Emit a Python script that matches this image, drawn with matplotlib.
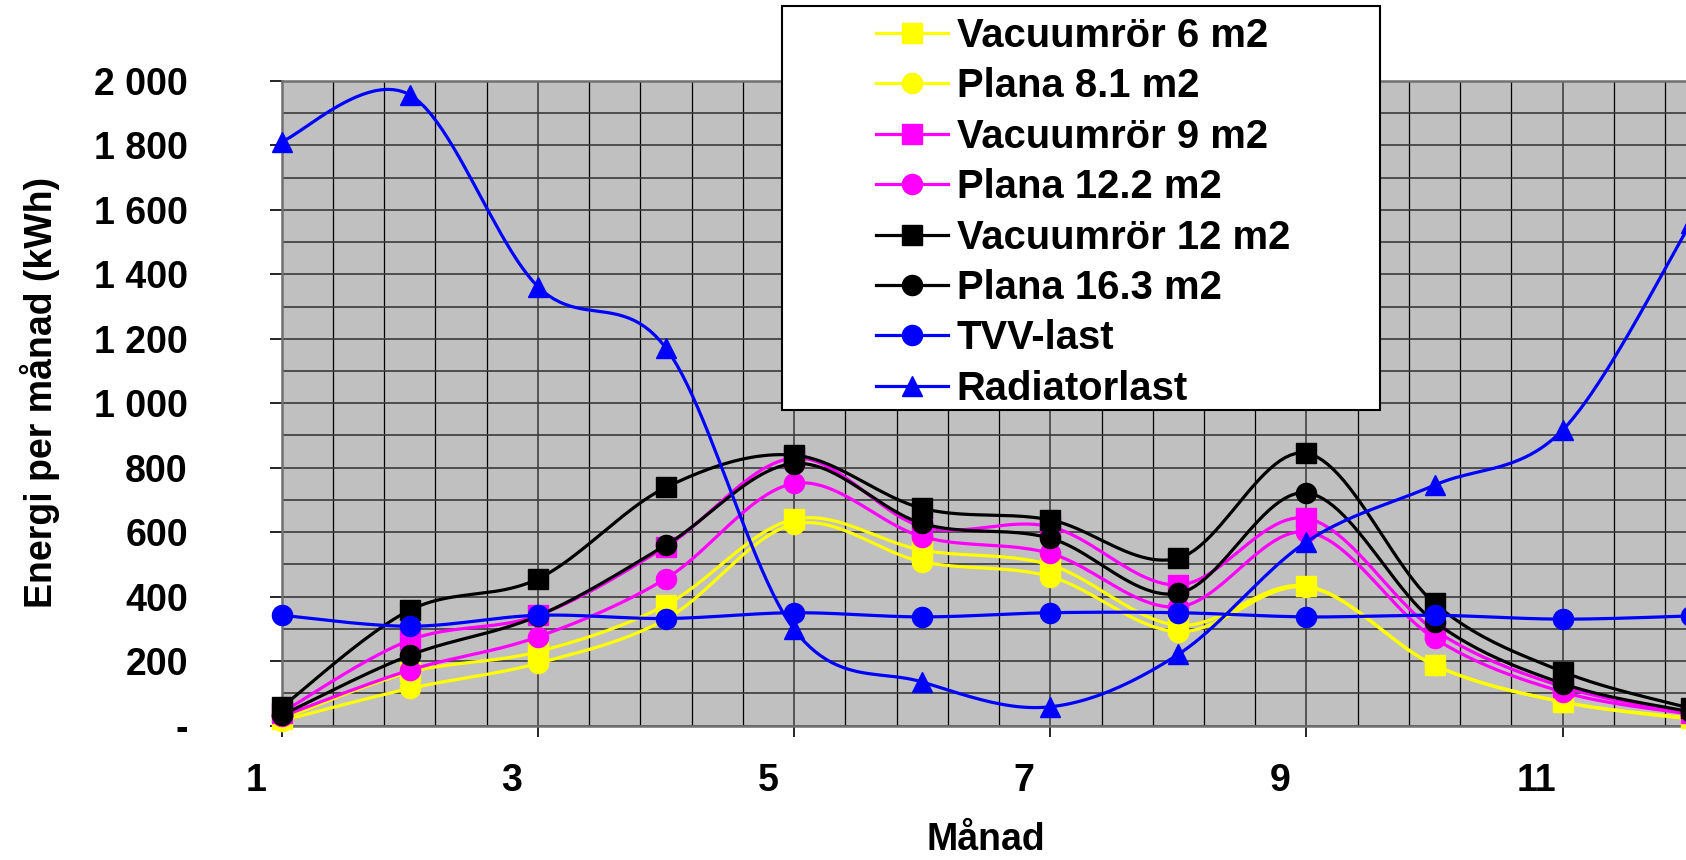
import numpy as np
import matplotlib
matplotlib.use("Agg")
import matplotlib.pyplot as plt
from matplotlib.lines import Line2D
from matplotlib.patches import Rectangle
from matplotlib.ticker import FixedLocator, MultipleLocator, FuncFormatter
from matplotlib.transforms import ScaledTranslation

plt.rcParams['font.family'] = ['Liberation Sans', 'DejaVu Sans']
plt.rcParams['font.weight'] = 'bold'

# monthly energy (kWh)
months = [1, 2, 3, 4, 5, 6, 7, 8, 9, 10, 11, 12]
vacuum_6 = [20, 165, 229, 374, 640, 544, 498, 311, 433, 187, 73, 23]
plana_8 = [15, 115, 193, 330, 625, 508, 462, 291, 430, 187, 73, 20]
vacuum_9 = [40, 265, 342, 555, 830, 617, 617, 436, 643, 296, 120, 38]
plana_12 = [28, 172, 275, 456, 751, 586, 534, 368, 601, 270, 104, 35]
vacuum_12 = [57, 358, 455, 739, 839, 674, 638, 519, 845, 379, 167, 53]
plana_16 = [32, 218, 340, 560, 813, 627, 581, 410, 722, 322, 130, 42]
tvv_last = [342, 308, 342, 332, 350, 337, 350, 350, 337, 342, 330, 340]
radiator_last = [1812, 1957, 1362, 1171, 298, 135, 58, 221, 570, 746, 917, 1559]

labels = ['Vacuumrör 6 m2', 'Plana 8.1 m2', 'Vacuumrör 9 m2', 'Plana 12.2 m2',
          'Vacuumrör 12 m2', 'Plana 16.3 m2', 'TVV-last', 'Radiatorlast']
series = [vacuum_6, plana_8, vacuum_9, plana_12, vacuum_12, plana_16, tvv_last, radiator_last]
colors = ['#FFFF00', '#FFFF00', '#FF00FF', '#FF00FF', '#000000', '#000000', '#0000FF', '#0000FF']
markers = ['s', 'o', 's', 'o', 's', 'o', 'o', '^']

N = 24  # samples per segment of the smoothed curve


def smooth(x, y):
    # Excel style smoothed line: cubic bezier with catmull-rom control points
    x = np.asarray(x, float)
    y = np.asarray(y, float)
    px = np.concatenate([[x[0]], x, [x[-1]]])
    py = np.concatenate([[y[0]], y, [y[-1]]])
    t = np.linspace(0, 1, N, endpoint=False)
    xs, ys = [], []
    for i in range(len(x) - 1):
        p0 = np.array([px[i], py[i]])
        p1 = np.array([px[i + 1], py[i + 1]])
        p2 = np.array([px[i + 2], py[i + 2]])
        p3 = np.array([px[i + 3], py[i + 3]])
        c1 = p1 + (p2 - p0) / 6
        c2 = p2 - (p3 - p1) / 6
        b = ((1 - t) ** 3)[:, None] * p1 + (3 * (1 - t) ** 2 * t)[:, None] * c1 \
            + (3 * (1 - t) * t ** 2)[:, None] * c2 + (t ** 3)[:, None] * p2
        xs.extend(b[:, 0])
        ys.extend(b[:, 1])
    xs.append(x[-1])
    ys.append(y[-1])
    return np.array(xs), np.array(ys)


W, H, DPI = 1686, 860, 100
fig = plt.figure(figsize=(W / DPI, H / DPI), dpi=DPI)

month_px = 128.1
left_px, top_px, bottom_px = 281.7, 81, 725.5
ax = fig.add_axes([left_px / W, 1 - bottom_px / H, 12 * month_px / W, (bottom_px - top_px) / H])
ax.set_facecolor('#C0C0C0')

for y, lab, c, m in zip(series, labels, colors, markers):
    sx, sy = smooth(months, y)
    ax.plot(sx, sy, color=c, lw=2.3, marker=m, markersize=15 if m != 'o' else 14.5,
            markeredgecolor=c, markevery=slice(0, None, N), label=lab, clip_on=False, zorder=3)

ax.set_xlim(1, 13)
ax.set_ylim(0, 2000)

ax.xaxis.set_major_locator(FixedLocator([1, 3, 5, 7, 9, 11]))
ax.xaxis.set_minor_locator(FixedLocator(np.arange(1, 13.01, 0.4)))
ax.yaxis.set_major_locator(MultipleLocator(200))
ax.yaxis.set_minor_locator(MultipleLocator(100))
ax.yaxis.set_major_formatter(FuncFormatter(lambda v, p: '-' if v == 0 else f'{int(v):,}'.replace(',', ' ')))

ax.grid(True, which='minor', axis='x', color='#000000', lw=0.9)
ax.grid(True, which='major', axis='x', color='#555555', lw=1.4)
ax.grid(True, which='both', axis='y', color='#3a3a3a', lw=1.2)
ax.set_axisbelow(True)

ax.tick_params(axis='both', which='minor', length=0)
ax.tick_params(axis='y', which='major', length=8.6, width=1.2, pad=59, labelsize=27, color='black')
ax.tick_params(axis='x', which='major', length=8, width=1.2, pad=19, labelsize=27, color='black')
for sp in ['left', 'bottom', 'top']:
    ax.spines[sp].set_color('#707070')
    ax.spines[sp].set_linewidth(1.8)
ax.spines['right'].set_visible(False)

shift = ScaledTranslation(-26 / DPI, 0, fig.dpi_scale_trans)
for lbl in ax.get_xticklabels():
    lbl.set_transform(lbl.get_transform() + shift)

ax.set_xlabel('Månad', fontsize=27, fontweight='bold', va='center')
ax.xaxis.set_label_coords(986 / W, 1 - 840 / H, transform=fig.transFigure)
ax.set_ylabel('Energi per månad (kWh)', fontsize=27, fontweight='bold', va='center')
ax.yaxis.set_label_coords(40 / W, 1 - 392 / H, transform=fig.transFigure)

# legend box
fig.add_artist(Rectangle((781.7 / W, 1 - 410 / H), (1380 - 781.7) / W, (410 - 6) / H,
                         transform=fig.transFigure, facecolor='white', edgecolor='black',
                         lw=1.5, zorder=4))
handles = [Line2D([], [], color=c, lw=2.3, marker=m, markersize=15 if m != 'o' else 14.5,
                  markeredgecolor=c) for c, m in zip(colors, markers)]
fig.legend(handles, labels, loc='upper left', bbox_to_anchor=(876 / W, 1 - 17 / H),
           frameon=False, borderpad=0, borderaxespad=0,
           handlelength=1.8, handletextpad=0.22, labelspacing=0.31,
           prop={'weight': 'bold', 'size': 28.8})

fig.savefig('out.png', dpi=DPI)
